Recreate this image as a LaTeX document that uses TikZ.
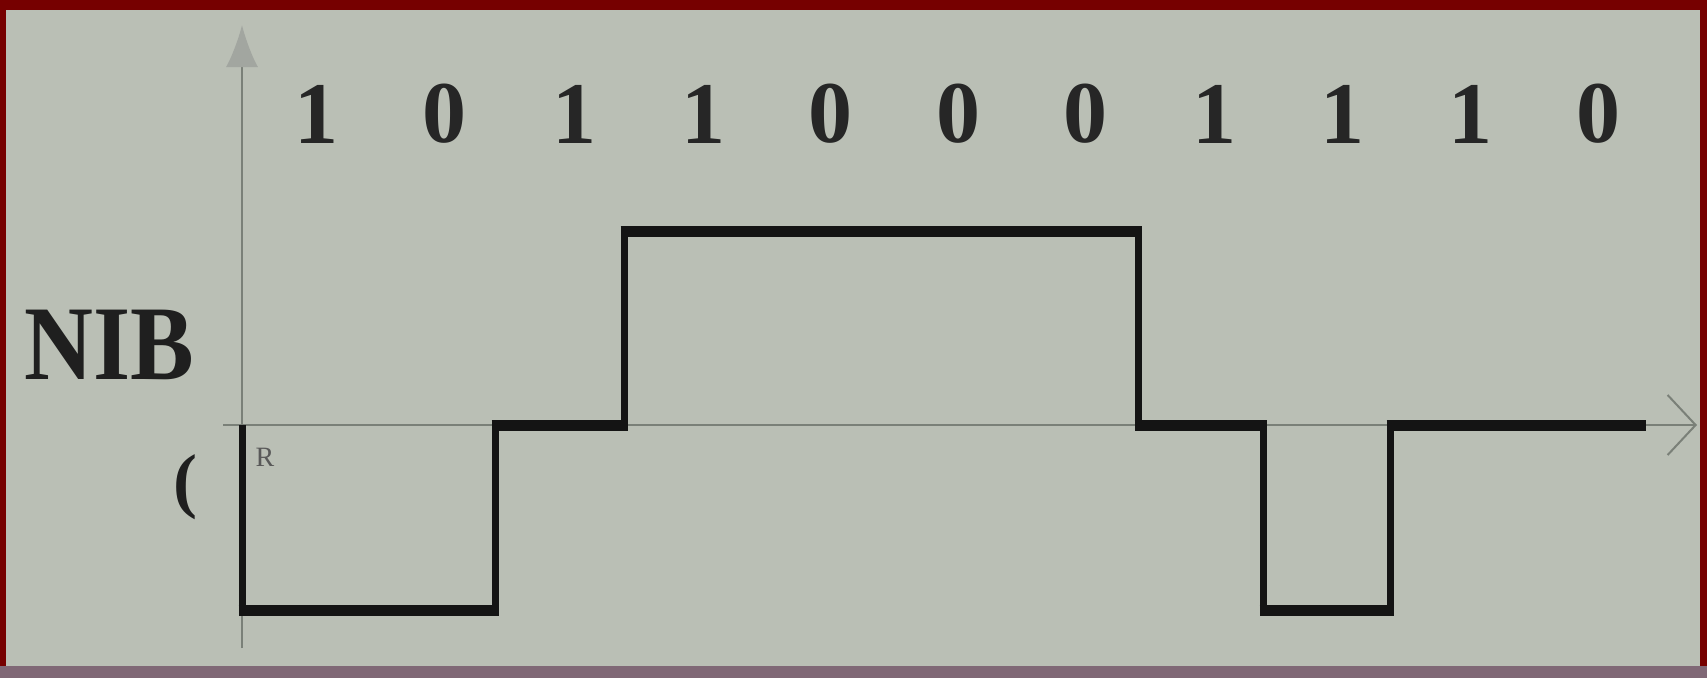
\documentclass[tikz,border=0pt]{standalone}
\usepackage{fontspec}
\setmainfont{Liberation Serif}
\usetikzlibrary{arrows.meta}
\definecolor{framered}{RGB}{118,0,0}
\definecolor{bgcol}{RGB}{186,191,181}
\definecolor{axisgray}{RGB}{122,128,120}
\definecolor{bandcol}{RGB}{128,104,118}
\begin{document}
\begin{tikzpicture}[x=1pt,y=-1pt,
  axisline/.style={draw=axisgray,line width=2.2pt},
  signal/.style={draw=black!92,line width=7pt,line join=miter,line cap=butt},
  level/.style={draw=black!92,line width=11pt,line cap=butt},
  bit/.style={font=\bfseries\fontsize{88}{88}\selectfont,text=black!85,inner sep=0pt,anchor=center},
  lbl/.style={inner sep=0pt,text=black!88,anchor=center}
]
\useasboundingbox (0,0) rectangle (1707,678);
\fill[framered] (0,0) rectangle (1707,678);
\fill[bandcol] (0,666) rectangle (1707,678);
\fill[bgcol] (6,10) rectangle (1700,666);

% axes
\coordinate (yb) at (242,648);
\coordinate (yt) at (242,25);
\coordinate (xl) at (223,425);
\coordinate (xr) at (1697,425);
\draw[axisline,-{Latex[length=42pt,width=32pt,color=axisgray!70]}] (yb) -- (yt);
\draw[axisline,-{Straight Barb[length=28pt,width=60pt,line width=2pt]}] (xl) -- (xr);

% signal
\coordinate (s0) at (242,425);
\coordinate (s1) at (242,610);
\coordinate (s2) at (495,610);
\coordinate (s3) at (495,425);
\coordinate (s4) at (624,425);
\coordinate (s5) at (624,231);
\coordinate (s6) at (1138,231);
\coordinate (s7) at (1138,425);
\coordinate (s8) at (1263,425);
\coordinate (s9) at (1263,610);
\coordinate (s10) at (1390,610);
\coordinate (s11) at (1390,425);
\coordinate (s12) at (1646,425);
\draw[signal] (s0) -- (s1) -- (s2) -- (s3) -- (s4) -- (s5) -- (s6) -- (s7) -- (s8) -- (s9) -- (s10) -- (s11) -- (s12);
% thicker horizontal levels
\draw[level] ([xshift=-3.5pt]s1) -- ([xshift=3.5pt]s2);
\draw[level] ([xshift=-3.5pt]s3) -- ([xshift=3.5pt]s4);
\draw[level] ([xshift=-3.5pt]s5) -- ([xshift=3.5pt]s6);
\draw[level] ([xshift=-3.5pt]s7) -- ([xshift=3.5pt]s8);
\draw[level] ([xshift=-3.5pt]s9) -- ([xshift=3.5pt]s10);
\draw[level] ([xshift=-3.5pt]s11) -- (s12);

% bit labels
\node[bit] (b1) at (316,114) {1};
\node[bit] (b2) at (444,114) {0};
\node[bit] (b3) at (574,114) {1};
\node[bit] (b4) at (703,114) {1};
\node[bit] (b5) at (830,114) {0};
\node[bit] (b6) at (958,114) {0};
\node[bit] (b7) at (1085,114) {0};
\node[bit] (b8) at (1214,114) {1};
\node[bit] (b9) at (1342,114) {1};
\node[bit] (b10) at (1470,114) {1};
\node[bit] (b11) at (1598,114) {0};

% left labels
\node[lbl,font=\bfseries\fontsize{106}{106}\selectfont,xscale=0.9] (nib) at (109,345) {NIB};
\node[lbl,font=\bfseries\fontsize{72}{72}\selectfont] (paren) at (185,487) {(};
\node[lbl,font=\fontsize{28}{28}\selectfont,text=black!65] (rr) at (265,457) {R};
\end{tikzpicture}
\end{document}
